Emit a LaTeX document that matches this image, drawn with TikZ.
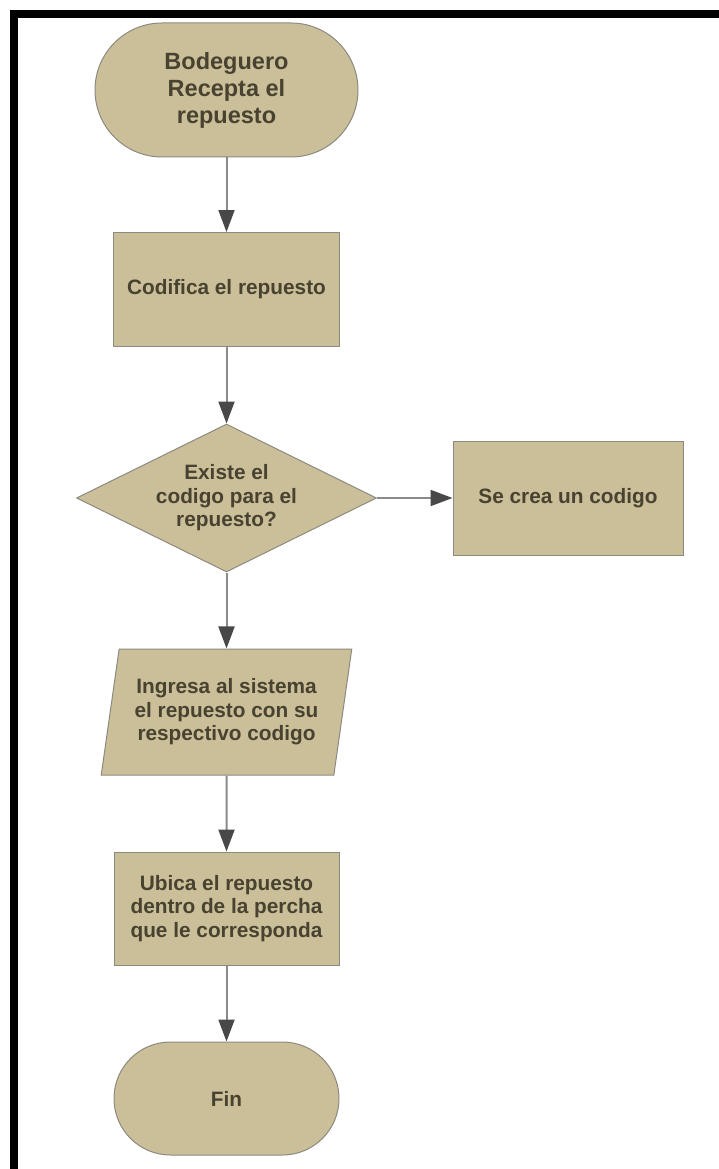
\documentclass[tikz,border=0pt]{standalone}
\usepackage{fontspec}
\setmainfont{Liberation Sans}
\usetikzlibrary{shapes.geometric, shapes.misc, arrows.meta, positioning}

\definecolor{boxfill}{RGB}{203,191,153}
\definecolor{boxline}{RGB}{140,138,128}
\definecolor{boxtext}{RGB}{72,66,48}
\definecolor{linegray}{RGB}{138,138,138}
\definecolor{tipgray}{RGB}{72,72,72}

\begin{document}
\begin{tikzpicture}[x=1pt, y=-1pt,
  base/.style={draw=boxline, fill=boxfill, line width=1pt, text=boxtext,
    font=\fontsize{20.8}{23.5}\selectfont\bfseries, align=center, inner sep=0pt},
  terminal/.style={base, rounded rectangle, minimum width=225pt, minimum height=113pt},
  process/.style={base, rectangle, minimum width=226pt, minimum height=114pt},
  decision/.style={base, diamond, aspect=2.03, minimum width=300pt, minimum height=148pt},
  io/.style={base, trapezium, trapezium left angle=77, trapezium right angle=103,
    trapezium stretches=true, minimum width=251pt, minimum height=126pt},
  flow/.style={draw=linegray, line width=2pt, -{Triangle[length=22pt, width=16pt, color=tipgray]}}]
\useasboundingbox (0,0) rectangle (719,1169);
\fill[white] (0,0) rectangle (719,1169);
% frame
\fill[black] (10,10) rectangle (719,18);
\fill[black] (10,10) rectangle (18,1169);

% Nodes
\node[terminal, minimum width=263pt, minimum height=134pt,
  font=\fontsize{23.5}{27}\selectfont\bfseries] (recepta) at (226.5,90) {Bodeguero\\Recepta el\\repuesto};
\node[process] (codifica) at (226.5,289.5) {Codifica el repuesto};
\node[decision] (existe) at (226.5,498) {Existe el\\codigo para el\\repuesto?};
\node[process, minimum width=230pt] (crea) at (568,498) {Se crea un codigo};
\node[io] (ingresa) at (226.5,712) {Ingresa al sistema\\el repuesto con su\\respectivo codigo};
\node[process, minimum width=225pt, minimum height=113pt] (ubica) at (226.5,908.5) {Ubica el repuesto\\dentro de la percha\\que le corresponda};
\node[terminal] (fin) at (226.5,1098.5) {Fin};

% Connectors
\draw[flow] (recepta) -- (codifica);
\draw[flow] (codifica) -- (existe);
\draw[flow] (existe.east) -- (crea.west);
\draw[flow] (existe) -- (ingresa);
\draw[flow] (ingresa) -- (ubica);
\draw[flow] (ubica) -- (fin);
\end{tikzpicture}
\end{document}
